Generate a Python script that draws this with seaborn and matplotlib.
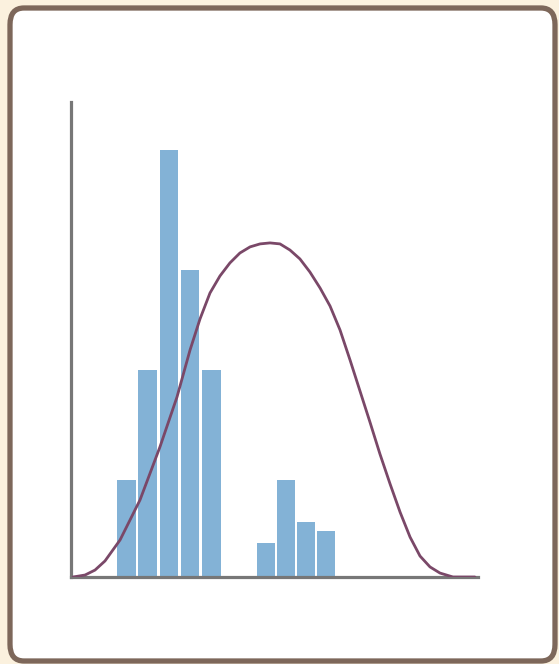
import numpy as np
import matplotlib
matplotlib.use("Agg")
import matplotlib.pyplot as plt
from matplotlib.patches import FancyBboxPatch
import seaborn as sns

# histogram bins (x units) and bar heights
bin_edges = [2.21, 3.25, 4.29, 5.33, 6.37, 7.41, 9.09, 10.07, 11.05, 12.03, 13.01]
bar_heights = [4.9, 10.46, 21.6, 15.5, 10.46, 0.0, 1.7, 4.9, 2.8, 2.3]

# fitted curve
curve_x = [0.10, 0.69, 1.18, 1.67, 2.41, 3.39, 4.37, 5.21, 5.85, 6.34, 6.83, 7.32,
           7.81, 8.30, 8.80, 9.29, 9.78, 10.27, 10.76, 11.25, 11.74, 12.24, 12.73,
           13.22, 13.71, 14.20, 14.69, 15.18, 15.68, 16.17, 16.66, 17.15, 17.64,
           18.13, 18.77, 19.85]
curve_y = [0.0, 0.10, 0.35, 0.81, 1.87, 3.89, 6.57, 9.10, 11.47, 13.04, 14.35, 15.21,
           15.87, 16.37, 16.68, 16.83, 16.88, 16.83, 16.52, 16.07, 15.41, 14.60, 13.69,
           12.48, 10.97, 9.40, 7.83, 6.22, 4.70, 3.28, 2.02, 1.06, 0.51,
           0.20, 0.0, 0.0]

sns.set_theme(style="white")

W, H = 559, 664
fig = plt.figure(figsize=(W / 100, H / 100), dpi=100)
fig.patch.set_facecolor("#fbf1de")

# rounded card frame, kept behind the axes
frame = FancyBboxPatch((10 / W, 3 / H), 545 / W, 653 / H,
                       boxstyle="round,pad=0,rounding_size=0.025",
                       transform=fig.transFigure, facecolor="white",
                       edgecolor="#7d675a", linewidth=3.8, zorder=-10)
fig.patches.append(frame)

ax = fig.add_axes([71 / W, (H - 577) / H, (478 - 71) / W, (577 - 102) / H])
ax.set_facecolor("none")
ax.set_zorder(5)

centers = [(a + b) / 2 for a, b in zip(bin_edges[:-1], bin_edges[1:])]
sns.histplot(x=centers, weights=bar_heights, bins=bin_edges, shrink=0.88,
             color="#83b2d6", alpha=1, edgecolor="none", linewidth=0, ax=ax)

sns.lineplot(x=curve_x, y=curve_y, sort=False, color="#7a4868",
             linewidth=2.0, ax=ax, zorder=5)

ax.set_xlim(0, 20)
ax.set_ylim(0, 24)
ax.set_xticks([])
ax.set_yticks([])
ax.set_xlabel("")
ax.set_ylabel("")
for side in ["top", "right"]:
    ax.spines[side].set_visible(False)
for side in ["left", "bottom"]:
    ax.spines[side].set_color("#777777")
    ax.spines[side].set_linewidth(2.3)

fig.savefig("out.png", dpi=100, facecolor=fig.get_facecolor())
